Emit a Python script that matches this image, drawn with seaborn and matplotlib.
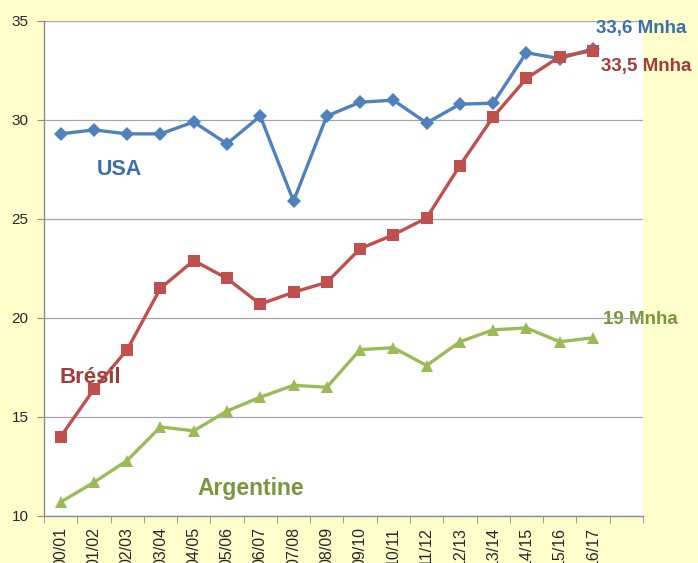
import seaborn as sns
import matplotlib
matplotlib.use('Agg')
import matplotlib.pyplot as plt
import pandas as pd

# campaign labels (one extra empty slot at the end, like the original chart)
campagnes = ['00/01', '01/02', '02/03', '03/04', '04/05', '05/06', '06/07', '07/08', '08/09',
             '09/10', '10/11', '11/12', '12/13', '13/14', '14/15', '15/16', '16/17']

usa = [29.3, 29.5, 29.3, 29.3, 29.9, 28.8, 30.2, 25.9, 30.2, 30.9, 31.0, 29.85, 30.8, 30.85, 33.4, 33.1, 33.6]
bresil = [14.0, 16.4, 18.4, 21.5, 22.9, 22.0, 20.7, 21.3, 21.8, 23.5, 24.2, 25.05, 27.7, 30.15, 32.1, 33.2, 33.5]
argentine = [10.7, 11.7, 12.8, 14.5, 14.3, 15.3, 16.0, 16.6, 16.5, 18.4, 18.5, 17.6, 18.8, 19.4, 19.5, 18.8, 19.0]

df = pd.DataFrame({'idx': range(len(campagnes)), 'USA': usa, 'Brésil': bresil, 'Argentine': argentine})

sns.set_style('white')
plt.rcParams['font.family'] = ['Liberation Sans', 'DejaVu Sans']

fig = plt.figure(figsize=(6.98, 5.63), dpi=100, facecolor='#FFFFCC')
ax = fig.add_axes([0.063, 0.0835, 0.858, 0.8792])
ax.set_facecolor('white')

styles = [('USA', '#4F81BD', 'D', 7), ('Brésil', '#C0504D', 's', 8.5), ('Argentine', '#9BBB59', '^', 9)]
for name, col, mk, ms in styles:
    sns.lineplot(data=df, x='idx', y=name, ax=ax, color=col, marker=mk, markersize=ms,
                 markeredgewidth=0, linewidth=2.4, zorder=3)

ax.set_xlim(-0.5, len(campagnes) + 0.5)
ax.set_ylim(10, 35)
ax.set_yticks([10, 15, 20, 25, 30, 35])
ax.grid(axis='y', color='#A6A6A6', linewidth=0.9)
ax.set_axisbelow(True)

ax.set_xticks(range(len(campagnes)))
ax.set_xticklabels(campagnes, rotation=90, va='top', fontsize=11.5)
ax.set_xticks([i - 0.5 for i in range(len(campagnes) + 2)], minor=True)
ax.tick_params(axis='x', which='major', length=0, pad=8)
ax.tick_params(axis='x', which='minor', length=5, color='#8C8C8C', direction='out', bottom=True)
ax.tick_params(axis='y', length=5, color='#8C8C8C', direction='out', left=True, labelsize=11, pad=6)
ax.set_xlabel('')
ax.set_ylabel('')

for s in ['top', 'right']:
    ax.spines[s].set_visible(False)
for s in ['left', 'bottom']:
    ax.spines[s].set_color('#8C8C8C')
    ax.spines[s].set_linewidth(1)

# annotations
ax.text(1.1, 27.5, 'USA', color='#3E6EAC', fontsize=15.5, fontweight='bold', ha='left', va='center')
ax.text(-0.03, 17.0, 'Brésil', color='#A53B38', fontsize=16, fontweight='bold', ha='left', va='center')
ax.text(4.1, 11.4, 'Argentine', color='#77963D', fontsize=16.5, fontweight='bold', ha='left', va='center')
ax.text(16.1, 34.6, '33,6 Mnha', color='#3E6EAC', fontsize=13.5, fontweight='bold', ha='left', va='center',
        clip_on=False)
ax.text(16.25, 32.7, '33,5 Mnha', color='#A53B38', fontsize=13.5, fontweight='bold', ha='left', va='center',
        clip_on=False)
ax.text(16.3, 19.9, '19 Mnha', color='#77963D', fontsize=13.5, fontweight='bold', ha='left', va='center',
        clip_on=False, zorder=0.4)

plt.savefig('out.png', dpi=100, facecolor=fig.get_facecolor())
